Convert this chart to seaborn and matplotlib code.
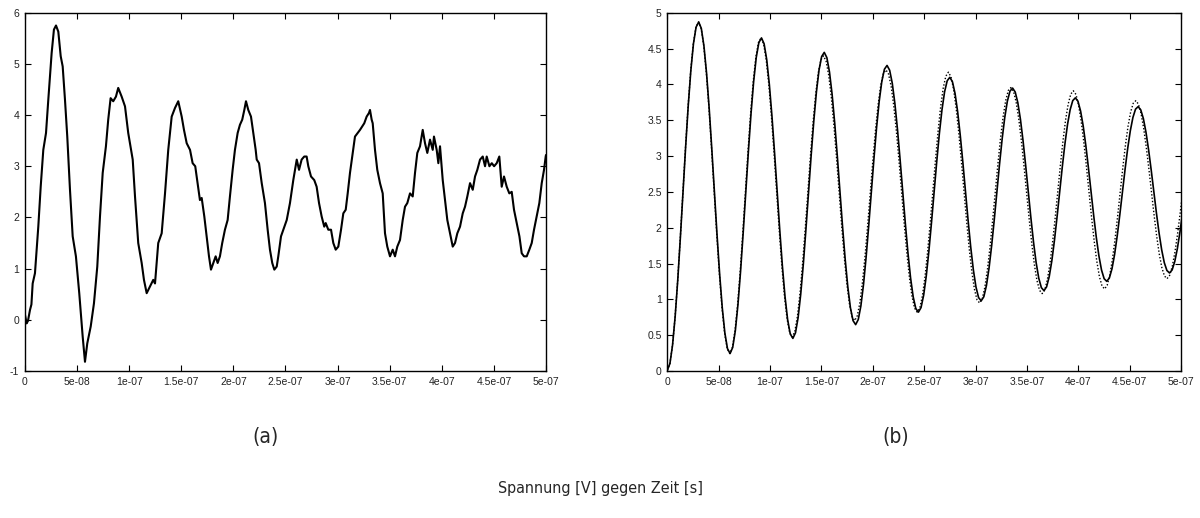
import numpy as np
import pandas as pd
import matplotlib
matplotlib.use("Agg")
import matplotlib.pyplot as plt
import seaborn as sns

# ---------------------------------------------------------------------------
# (a) measured voltage, oscilloscope trace: time [ns] and voltage [V]
# ---------------------------------------------------------------------------
T_MEAS_NS = [
    0, 1.6, 2.9, 4.8, 6.2, 7.4, 9.6, 12.8, 15.1, 17.6,
    20.2, 22.4, 25.6, 27.8, 29.8, 32.0, 34.3, 36.2, 38.4, 40.6,
    43.2, 45.8, 48.9, 52.1, 55.4, 57.6, 59.8, 63.1, 66.2, 69.4,
    72.0, 74.6, 77.7, 79.9, 82.2, 84.7, 87.3, 89.5, 92.8, 96.0,
    99.1, 103.4, 105.6, 108.7, 112.0, 114.2, 116.8, 120.0, 123.1, 124.8,
    127.9, 131.2, 134.4, 137.5, 140.8, 144.0, 147.1, 150.4, 152.6, 155.2,
    158.4, 160.9, 163.4, 165.7, 167.9, 169.6, 172.1, 174.4, 176.6, 178.5,
    180.7, 183.0, 184.9, 187.1, 189.3, 191.9, 194.5, 196.7, 199.3, 201.5,
    204.1, 206.3, 208.5, 210.5, 212.1, 214.3, 216.9, 219.1, 221.4, 222.4,
    224.6, 227.2, 230.3, 232.9, 235.1, 237.3, 239.3, 241.6, 243.1, 245.7,
    247.9, 251.2, 254.3, 257.5, 260.8, 263.0, 265.5, 268.0, 270.3, 271.9,
    274.5, 277.6, 279.9, 282.2, 284.7, 287.2, 288.6, 291.1, 293.7, 295.9,
    298.2, 300.7, 303.3, 305.5, 307.8, 309.7, 311.9, 314.1, 316.7, 319.3,
    321.5, 323.7, 325.6, 327.9, 330.1, 331.1, 332.7, 333.7, 335.9, 338.1,
    340.7, 343.3, 345.5, 347.7, 350.3, 352.9, 355.1, 357.3, 359.9, 362.5,
    364.7, 366.9, 369.5, 372.1, 374.3, 376.5, 379.1, 381.7, 383.9, 386.1,
    388.7, 391.3, 392.5, 395.1, 396.7, 398.3, 400.9, 403.1, 405.3, 407.9,
    410.5, 412.7, 414.9, 417.5, 420.1, 422.3, 424.5, 427.1, 429.7, 431.9,
    434.1, 436.7, 439.3, 441.5, 443.1, 445.7, 448.0, 450.2, 452.7, 455.2,
    457.5, 459.7, 462.3, 464.8, 467.1, 469.3, 471.9, 474.5, 476.7, 478.9,
    481.5, 484.0, 486.3, 488.5, 491.1, 493.6, 495.9, 498.1, 499.7, 500.0,
]
U_MEAS_V = [
    0.10, -0.07, -0.02, 0.19, 0.30, 0.71, 0.91, 1.82, 2.60, 3.32,
    3.65, 4.30, 5.21, 5.67, 5.75, 5.63, 5.15, 4.95, 4.30, 3.58,
    2.54, 1.63, 1.24, 0.52, -0.33, -0.82, -0.46, -0.13, 0.32, 1.04,
    2.02, 2.87, 3.39, 3.91, 4.33, 4.27, 4.36, 4.53, 4.36, 4.17,
    3.65, 3.13, 2.41, 1.50, 1.11, 0.78, 0.52, 0.65, 0.78, 0.71,
    1.50, 1.69, 2.47, 3.32, 3.97, 4.14, 4.27, 3.97, 3.71, 3.45,
    3.32, 3.06, 3.00, 2.67, 2.34, 2.38, 2.02, 1.63, 1.24, 0.98,
    1.11, 1.24, 1.11, 1.24, 1.50, 1.76, 1.95, 2.41, 2.93, 3.32,
    3.65, 3.81, 3.91, 4.10, 4.27, 4.10, 3.97, 3.65, 3.32, 3.13,
    3.06, 2.67, 2.28, 1.76, 1.37, 1.11, 0.98, 1.04, 1.24, 1.63,
    1.76, 1.95, 2.28, 2.73, 3.13, 2.93, 3.13, 3.19, 3.19, 3.00,
    2.80, 2.73, 2.60, 2.28, 2.02, 1.82, 1.89, 1.76, 1.76, 1.50,
    1.37, 1.43, 1.76, 2.08, 2.15, 2.47, 2.87, 3.19, 3.58, 3.65,
    3.71, 3.78, 3.84, 3.97, 4.04, 4.10, 3.91, 3.84, 3.32, 2.93,
    2.67, 2.47, 1.69, 1.43, 1.24, 1.37, 1.24, 1.43, 1.56, 1.95,
    2.21, 2.28, 2.47, 2.41, 2.87, 3.26, 3.39, 3.71, 3.45, 3.26,
    3.52, 3.32, 3.58, 3.32, 3.06, 3.39, 2.73, 2.34, 1.95, 1.69,
    1.43, 1.50, 1.69, 1.82, 2.08, 2.21, 2.41, 2.67, 2.54, 2.80,
    2.93, 3.13, 3.19, 3.00, 3.19, 3.00, 3.06, 3.00, 3.06, 3.19,
    2.60, 2.80, 2.60, 2.47, 2.50, 2.15, 1.89, 1.63, 1.30, 1.24,
    1.24, 1.37, 1.50, 1.76, 2.02, 2.28, 2.67, 2.93, 3.19, 3.22,
]

# ---------------------------------------------------------------------------
# (b) fitted curve (solid) and simulation (dotted), equally spaced samples
# ---------------------------------------------------------------------------
FIT_STEP_NS = 61.1 / 24
SIM_STEP_NS = 60.8 / 24

U_FIT_V = [
    0.010, 0.105, 0.361, 0.761, 1.275, 1.869, 2.500, 3.126, 3.705, 4.197, 4.570, 4.799,
    4.870, 4.780, 4.536, 4.156, 3.666, 3.101, 2.500, 1.904, 1.353, 0.885, 0.530, 0.312,
    0.244, 0.329, 0.562, 0.924, 1.390, 1.928, 2.500, 3.067, 3.592, 4.038, 4.376, 4.583,
    4.648, 4.566, 4.345, 4.000, 3.557, 3.045, 2.500, 1.960, 1.461, 1.036, 0.715, 0.517,
    0.455, 0.533, 0.744, 1.072, 1.494, 1.982, 2.500, 3.014, 3.489, 3.893, 4.200, 4.388,
    4.446, 4.372, 4.172, 3.860, 3.457, 2.994, 2.500, 2.011, 1.558, 1.174, 0.882, 0.703,
    0.647, 0.718, 0.908, 1.206, 1.589, 2.030, 2.500, 2.966, 3.397, 3.763, 4.040, 4.211,
    4.264, 4.197, 4.015, 3.732, 3.368, 2.947, 2.500, 2.056, 1.647, 1.298, 1.034, 0.872,
    0.821, 0.885, 1.058, 1.327, 1.674, 2.074, 2.500, 2.922, 3.312, 3.644, 3.896, 4.050,
    4.098, 4.037, 3.873, 3.616, 3.286, 2.905, 2.500, 2.098, 1.727, 1.411, 1.172, 1.024,
    0.979, 1.036, 1.193, 1.437, 1.752, 2.114, 2.500, 2.883, 3.236, 3.537, 3.765, 3.905,
    3.948, 3.893, 3.744, 3.512, 3.212, 2.867, 2.500, 2.136, 1.799, 1.513, 1.296, 1.163,
    1.121, 1.174, 1.316, 1.537, 1.822, 2.150, 2.500, 2.847, 3.167, 3.440, 3.646, 3.773,
    3.812, 3.763, 3.627, 3.417, 3.146, 2.833, 2.500, 2.170, 1.865, 1.606, 1.409, 1.288,
    1.251, 1.298, 1.427, 1.627, 1.886, 2.183, 2.500, 2.814, 3.105, 3.351, 3.538, 3.654,
    3.689, 3.644, 3.522, 3.331, 3.085, 2.802, 2.500, 2.201, 1.925, 1.690, 1.511, 1.402,
    1.368, 1.411, 1.528, 1.709, 1.943, 2.213,
]
U_SIM_V = [
    0.010, 0.105, 0.361, 0.761, 1.275, 1.869, 2.500, 3.126, 3.705, 4.197, 4.570, 4.799,
    4.870, 4.780, 4.536, 4.156, 3.666, 3.101, 2.500, 1.904, 1.353, 0.885, 0.530, 0.312,
    0.244, 0.329, 0.562, 0.924, 1.390, 1.928, 2.500, 3.067, 3.592, 4.038, 4.376, 4.583,
    4.648, 4.564, 4.342, 3.996, 3.553, 3.043, 2.500, 1.963, 1.468, 1.047, 0.730, 0.535,
    0.475, 0.555, 0.766, 1.092, 1.509, 1.990, 2.500, 3.004, 3.469, 3.863, 4.162, 4.343,
    4.397, 4.324, 4.129, 3.824, 3.431, 2.981, 2.500, 2.025, 1.585, 1.212, 0.929, 0.756,
    0.703, 0.772, 0.957, 1.246, 1.618, 2.045, 2.500, 2.951, 3.367, 3.720, 3.987, 4.152,
    4.202, 4.143, 3.971, 3.700, 3.348, 2.938, 2.500, 2.063, 1.657, 1.309, 1.043, 0.877,
    0.821, 0.879, 1.047, 1.314, 1.662, 2.066, 2.500, 2.933, 3.336, 3.683, 3.948, 4.114,
    4.170, 4.103, 3.929, 3.659, 3.315, 2.919, 2.500, 2.086, 1.705, 1.382, 1.140, 0.991,
    0.949, 1.009, 1.170, 1.420, 1.741, 2.109, 2.500, 2.887, 3.243, 3.546, 3.774, 3.914,
    3.955, 3.903, 3.755, 3.523, 3.222, 2.873, 2.500, 2.129, 1.784, 1.490, 1.265, 1.126,
    1.080, 1.129, 1.272, 1.497, 1.792, 2.133, 2.500, 2.867, 3.207, 3.500, 3.723, 3.864,
    3.910, 3.859, 3.713, 3.488, 3.197, 2.859, 2.500, 2.143, 1.813, 1.532, 1.318, 1.186,
    1.145, 1.197, 1.339, 1.556, 1.836, 2.158, 2.500, 2.838, 3.150, 3.414, 3.613, 3.736,
    3.772, 3.724, 3.594, 3.389, 3.126, 2.823, 2.500, 2.180, 1.884, 1.633, 1.442, 1.325,
    1.289, 1.335, 1.460, 1.654, 1.904, 2.193, 2.500,
]

# axis ticks
X_TICKS = [0, 5e-08, 1e-07, 1.5e-07, 2e-07, 2.5e-07, 3e-07, 3.5e-07, 4e-07, 4.5e-07, 5e-07]
X_TICK_LABELS = ["0", "5e-08", "1e-07", "1.5e-07", "2e-07", "2.5e-07",
                 "3e-07", "3.5e-07", "4e-07", "4.5e-07", "5e-07"]
Y_TICKS_A = [-1, 0, 1, 2, 3, 4, 5, 6]
Y_TICK_LABELS_A = ["-1", "0", "1", "2", "3", "4", "5", "6"]
Y_TICKS_B = [0, 0.5, 1, 1.5, 2, 2.5, 3, 3.5, 4, 4.5, 5]
Y_TICK_LABELS_B = ["0", "0.5", "1", "1.5", "2", "2.5", "3", "3.5", "4", "4.5", "5"]

TITLE = "Spannung [V] gegen Zeit [s]"

# ---------------------------------------------------------------------------
sns.set_theme(style="ticks")
plt.rcParams["font.family"] = ["Liberation Sans", "DejaVu Sans"]

df_meas = pd.DataFrame({"t": np.asarray(T_MEAS_NS) * 1e-9, "u": U_MEAS_V})
df_fit = pd.DataFrame({"t": np.arange(len(U_FIT_V)) * FIT_STEP_NS * 1e-9, "u": U_FIT_V})
df_sim = pd.DataFrame({"t": np.arange(len(U_SIM_V)) * SIM_STEP_NS * 1e-9, "u": U_SIM_V})

fig = plt.figure(figsize=(12, 5.18), dpi=100)
ax_a = fig.add_axes([0.0208, 0.2838, 0.4342, 0.6917])
ax_b = fig.add_axes([0.5561, 0.2838, 0.4281, 0.6917])

sns.lineplot(data=df_meas, x="t", y="u", ax=ax_a, color="black",
             linewidth=1.5, estimator=None, sort=False)
sns.lineplot(data=df_sim, x="t", y="u", ax=ax_b, color="black",
             linewidth=1.0, linestyle=(0, (1, 1.4)), estimator=None, sort=False)
sns.lineplot(data=df_fit, x="t", y="u", ax=ax_b, color="black",
             linewidth=1.2, estimator=None, sort=False)


def style_axes(ax, yticks, ylabels, ylim):
    ax.set_xlim(0, 5e-07)
    ax.set_ylim(*ylim)
    ax.set_xticks(X_TICKS)
    ax.set_xticklabels(X_TICK_LABELS)
    ax.set_yticks(yticks)
    ax.set_yticklabels(ylabels)
    ax.set_xlabel("")
    ax.set_ylabel("")
    for side in ("top", "right", "bottom", "left"):
        ax.spines[side].set_visible(True)
        ax.spines[side].set_color("black")
        ax.spines[side].set_linewidth(1.0)
    ax.tick_params(axis="both", which="major", direction="in", length=4,
                   width=0.8, color="black", labelsize=7.5, labelcolor="#222222",
                   top=True, right=True, pad=4)


style_axes(ax_a, Y_TICKS_A, Y_TICK_LABELS_A, (-1, 6))
style_axes(ax_b, Y_TICKS_B, Y_TICK_LABELS_B, (0, 5))

caption_font = dict(family=["DejaVu Sans"], stretch="condensed", weight="light")
fig.text(265 / 1200, 1 - 437 / 518, "(a)", ha="center", va="center",
         fontsize=15, **caption_font)
fig.text(896 / 1200, 1 - 437 / 518, "(b)", ha="center", va="center",
         fontsize=15, **caption_font)
fig.text(0.5, 1 - 488 / 518, TITLE, ha="center", va="center",
         fontsize=11.5, **caption_font)

fig.savefig("out.png", dpi=100, facecolor="white")
